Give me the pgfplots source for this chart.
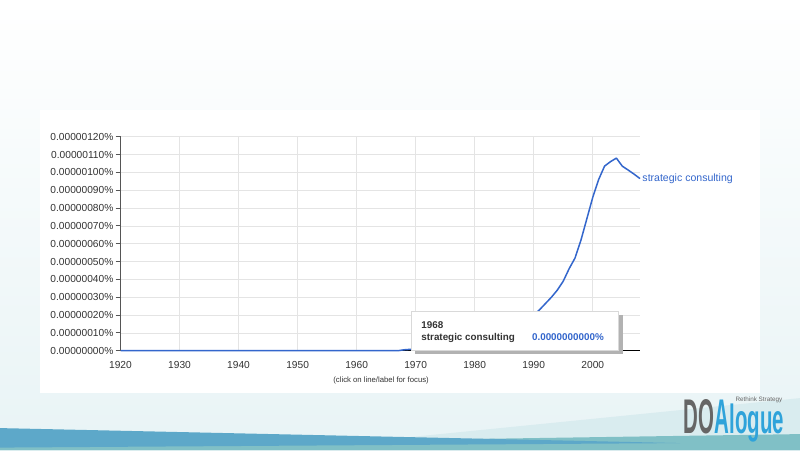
\documentclass[border=0pt]{standalone}
\usepackage{pgfplots}
\pgfplotsset{compat=1.18}
\usepackage{pgfplotstable}
\usepackage{fontspec}
\setmainfont{Liberation Sans}

\definecolor{lineblue}{HTML}{3366CC}
\definecolor{gridgray}{HTML}{E4E4E4}
\definecolor{axisgray}{HTML}{555555}
\definecolor{labelgray}{HTML}{333333}
\definecolor{bandblue}{HTML}{5DA8C9}
\definecolor{bandteal}{HTML}{80C0C6}
\definecolor{bandlight}{HTML}{D9ECEF}
\definecolor{logogray}{HTML}{666666}
\definecolor{logoblue}{HTML}{2FA3DA}

% share of "strategic consulting" in the corpus, in units of 0.000001 %
\pgfplotstableread{
year share
1920 0
1967 0
1968 0.005
1970 0.01
1975 0.03
1980 0.06
1985 0.12
1988 0.16
1990 0.20
1991 0.23
1992 0.265
1993 0.30
1994 0.34
1995 0.39
1996 0.46
1997 0.52
1998 0.62
1999 0.74
2000 0.86
2001 0.96
2002 1.035
2003 1.06
2004 1.08
2005 1.035
2006 1.013
2007 0.99
2008 0.965
}\ngram

\begin{document}
\begin{tikzpicture}
% slide background
\shade[top color=white, bottom color=bandlight!60] (0,0) rectangle (16cm,9cm);
\begin{scope}[x=0.02cm, y=-0.02cm, yshift=9cm]
  \fill[white] (40,110) rectangle (760,393);
  \fill[bandlight] (280,450) -- (800,398) -- (800,450) -- cycle;
  \fill[bandteal] (0,450) -- (0,446) -- (800,434) -- (800,450) -- cycle;
  \fill[bandblue] (0,428) -- (680,443) -- (0,447.5) -- cycle;
\end{scope}

\begin{axis}[
  scale only axis,
  width=10.39cm, height=4.28cm,
  at={(2.41cm,1.986cm)}, anchor=south west,
  xmin=1920, xmax=2008, ymin=0, ymax=1.2,
  xtick={1920,1930,1940,1950,1960,1970,1980,1990,2000},
  ytick={0,0.1,0.2,0.3,0.4,0.5,0.6,0.7,0.8,0.9,1.0,1.1,1.2},
  yticklabels={0.00000000\%,0.00000010\%,0.00000020\%,0.00000030\%,
    0.00000040\%,0.00000050\%,0.00000060\%,0.00000070\%,0.00000080\%,
    0.00000090\%,0.00000100\%,0.00000110\%,0.00000120\%},
  /pgf/number format/assume math mode=true,
  /pgf/number format/1000 sep={},
  grid=major,
  major grid style={draw=gridgray, line width=0.4pt},
  axis x line*=bottom, axis y line*=left,
  x axis line style={-, black, line width=0.8pt},
  y axis line style={-, axisgray, line width=0.9pt},
  xtick style={draw=none},
  ytick style={axisgray, line width=0.6pt},
  tick align=outside, major tick length=0.1cm,
  ticklabel style={font=\fontsize{5.8}{6}\selectfont, text=labelgray},
  yticklabel style={inner sep=1pt},
  xticklabel style={inner sep=2pt, yshift=-1pt},
  clip=false,
]
\addplot[lineblue, line width=0.85pt, line join=round] table[x=year, y=share] {\ngram}
  node[pos=1, anchor=west, inner sep=1pt, font=\fontsize{6}{7}\selectfont, text=lineblue] {strategic consulting};
\end{axis}

\begin{scope}[x=0.02cm, y=-0.02cm, yshift=9cm]
  % hover box
  \fill[black!30] (415,315) rectangle (622.5,354);
  \fill[white] (411.7,311.7) rectangle (618,350.5);
  \draw[black!15, line width=0.4pt] (411.7,311.7) rectangle (618,350.5);
  \node[anchor=west, inner sep=0, font=\fontsize{5.6}{6}\selectfont\bfseries, text=labelgray] at (421,325) {1968};
  \node[anchor=west, inner sep=0, font=\fontsize{5.6}{6}\selectfont\bfseries, text=labelgray] at (421,337.5) {strategic consulting};
  \node[anchor=east, inner sep=0, font=\fontsize{5.6}{6}\selectfont\bfseries, text=lineblue] at (604,337.5) {0.0000000000\%};
  % note under the chart
  \node[font=\fontsize{4.4}{5}\selectfont, text=labelgray] at (381,380) {(click on line/label for focus)};
  % logo
  \node[anchor=base west, inner sep=0, font=\fontsize{27.7}{28}\selectfont\bfseries] (doa) at (683,433)
    {\scalebox{0.42}[1]{\textcolor{logogray}{DO}\textcolor{logoblue}{A}}};
  \node[anchor=base west, inner sep=0, font=\fontsize{27.7}{28}\selectfont\bfseries, text=logoblue] at (doa.base east)
    {\scalebox{0.42}[0.84]{logue}};
  \node[anchor=base west, inner sep=0, font=\fontsize{3.6}{4}\selectfont, text=logogray] at (735,401.5) {Rethink Strategy};
\end{scope}
\pgfresetboundingbox
\path[use as bounding box] (0,0) rectangle (16cm,9cm);
\end{tikzpicture}
\end{document}
